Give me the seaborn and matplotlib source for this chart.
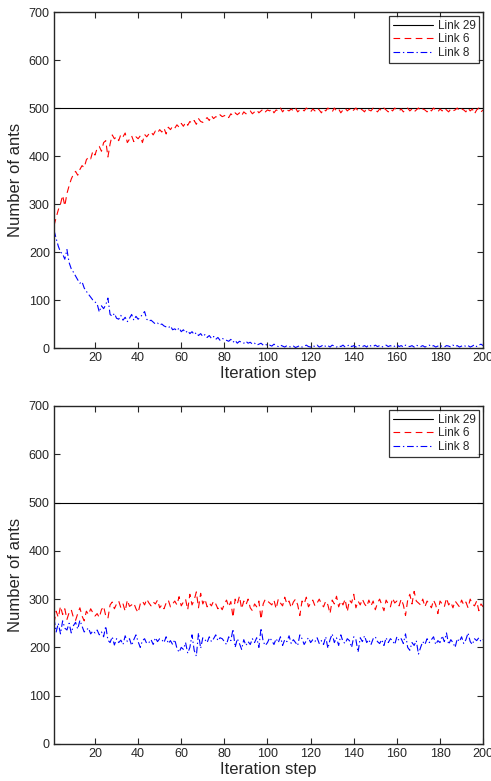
import numpy as np
import pandas as pd
import matplotlib
matplotlib.use('Agg')
import matplotlib.pyplot as plt
import seaborn as sns

sns.set_style('ticks')
plt.rcParams['font.family'] = ['Liberation Sans', 'DejaVu Sans']

steps = list(range(1, 201))

# top panel: converging case
top_link6 = [
    255, 272, 288, 300, 318, 296, 322, 338, 352, 362,
    368, 360, 372, 380, 376, 392, 398, 394, 410, 402,
    416, 420, 410, 428, 432, 398, 425, 444, 436, 440,
    432, 445, 440, 448, 428, 435, 442, 430, 440, 436,
    442, 428, 445, 440, 446, 450, 444, 452, 448, 455,
    450, 458, 446, 460, 455, 462, 458, 465, 460, 468,
    462, 470, 464, 472, 468, 474, 466, 478, 472, 470,
    476, 480, 474, 484, 478, 482, 480, 486, 482, 484,
    486, 480, 488, 484, 490, 486, 490, 484, 492, 488,
    490, 494, 488, 492, 496, 490, 494, 498, 492, 496,
    494, 498, 490, 496, 494, 500, 492, 498, 496, 494,
    498, 494, 500, 492, 496, 498, 494, 500, 496, 492,
    498, 494, 500, 496, 490, 498, 494, 500, 496, 492,
    500, 494, 498, 490, 496, 500, 494, 498, 492, 496,
    500, 494, 498, 496, 492, 500, 496, 494, 500, 496,
    492, 498, 494, 500, 496, 492, 498, 494, 500, 496,
    494, 498, 492, 496, 500, 494, 498, 492, 496, 500,
    494, 498, 496, 492, 498, 494, 500, 496, 492, 498,
    494, 500, 496, 492, 498, 494, 496, 500, 494, 498,
    496, 492, 500, 494, 498, 488, 496, 500, 492, 496,
]
top_link8 = [
    245, 228, 212, 200, 196, 185, 205, 178, 165, 158,
    150, 142, 135, 138, 125, 118, 112, 106, 100, 96,
    92, 75, 88, 82, 90, 104, 70, 66, 72, 62,
    60, 68, 58, 64, 55, 62, 70, 58, 66, 60,
    64, 70, 76, 60, 56, 58, 54, 50, 52, 48,
    50, 46, 44, 42, 46, 38, 40, 36, 42, 34,
    38, 32, 36, 30, 34, 28, 32, 26, 30, 24,
    28, 22, 26, 20, 24, 18, 22, 16, 20, 18,
    16, 14, 18, 12, 16, 10, 14, 12, 10, 14,
    10, 12, 8, 10, 6, 8, 10, 6, 8, 5,
    6, 4, 8, 5, 3, 6, 4, 2, 5, 3,
    2, 4, 1, 3, 5, 2, 4, 6, 3, 2,
    5, 3, 6, 2, 4, 7, 3, 5, 2, 6,
    4, 2, 5, 3, 6, 2, 4, 7, 3, 5,
    2, 6, 4, 3, 5, 2, 7, 4, 3, 6,
    3, 5, 2, 4, 6, 3, 5, 2, 4, 7,
    3, 5, 2, 6, 4, 3, 5, 2, 6, 4,
    3, 5, 2, 4, 6, 3, 5, 2, 4, 6,
    3, 2, 5, 4, 2, 6, 3, 5, 2, 4,
    6, 3, 5, 2, 4, 7, 3, 6, 8, 5,
]

# bottom panel: oscillating case
bot_link6 = [
    250, 275, 262, 285, 268, 280, 258, 272, 278, 262,
    256, 270, 282, 265, 255, 275, 268, 280, 272, 265,
    270, 262, 278, 285, 265, 260, 288, 294, 280, 290,
    296, 282, 290, 275, 298, 285, 288, 292, 280, 272,
    290, 296, 288, 300, 292, 286, 294, 290, 298, 282,
    288, 280, 292, 298, 284, 290, 296, 288, 305, 286,
    294, 300, 278, 310, 288, 298, 315, 282, 312, 290,
    300, 284, 292, 286, 296, 290, 280, 286, 278, 290,
    298, 284, 295, 262, 300, 290, 306, 280, 296, 288,
    300, 282, 276, 290, 284, 296, 258, 290, 300, 296,
    292, 288, 298, 280, 300, 292, 286, 304, 290, 296,
    282, 294, 300, 288, 266, 296, 290, 304, 284, 292,
    298, 286, 292, 300, 290, 284, 296, 288, 270, 298,
    290, 306, 284, 296, 288, 300, 274, 298, 292, 310,
    282, 296, 288, 300, 290, 284, 298, 286, 296, 278,
    292, 300, 288, 276, 298, 290, 284, 302, 292, 296,
    286, 300, 288, 266, 298, 310, 290, 316, 296, 292,
    288, 300, 284, 296, 290, 282, 298, 288, 270, 296,
    290, 284, 302, 288, 294, 282, 296, 290, 284, 298,
    288, 294, 282, 300, 290, 286, 296, 276, 290, 284,
]
bot_link8 = [
    260, 232, 250, 228, 255, 240, 236, 250, 230, 245,
    252, 238, 256, 244, 232, 236, 240, 228, 234, 230,
    236, 226, 232, 222, 244, 215, 210, 222, 205, 218,
    210, 215, 206, 224, 212, 218, 204, 216, 226, 212,
    200, 214, 218, 208, 210, 216, 206, 220, 212, 218,
    216, 210, 222, 208, 214, 206, 216, 198, 190, 200,
    196, 210, 188, 200, 226, 194, 182, 230, 198, 220,
    216, 210, 222, 212, 218, 226, 214, 220, 218, 212,
    206, 222, 214, 238, 200, 218, 208, 196, 216, 204,
    212, 206, 218, 210, 220, 200, 240, 212, 204, 210,
    220, 214, 206, 218, 210, 222, 204, 216, 212, 224,
    208, 216, 210, 204, 226, 218, 206, 214, 220, 210,
    216, 212, 220, 208, 214, 206, 222, 198, 216, 228,
    210, 220, 204, 226, 212, 208, 218, 214, 200, 222,
    216, 190, 220, 212, 224, 210, 216, 206, 218, 222,
    212, 208, 216, 204, 220, 210, 218, 214, 206, 222,
    214, 218, 208, 228, 200, 194, 210, 204, 214, 186,
    200, 212, 206, 218, 210, 216, 222, 206, 214, 210,
    224, 212, 230, 206, 216, 210, 200, 218, 212, 222,
    208, 216, 230, 212, 206, 218, 214, 220, 212, 216,
]
link29 = [500] * len(steps)


def panel(ax, link6, link8):
    '''Draw one panel with the three links'''
    df = pd.DataFrame({'step': steps, 'Link 29': link29,
                       'Link 6': link6, 'Link 8': link8})
    sns.lineplot(x='step', y='Link 29', data=df, ax=ax, color='black',
                 lw=0.8, label='Link 29')
    sns.lineplot(x='step', y='Link 6', data=df, ax=ax, color='red',
                 lw=0.8, dashes=(6, 4), label='Link 6')
    sns.lineplot(x='step', y='Link 8', data=df, ax=ax, color='blue',
                 lw=0.8, dashes=(6, 2.5, 1.2, 2.5), label='Link 8')
    ax.set_xlim(1, 200)
    ax.set_ylim(0, 700)
    ax.set_xticks(range(20, 201, 20))
    ax.set_yticks(range(0, 701, 100))
    ax.set_xlabel('Iteration step', fontsize=12, labelpad=1)
    ax.set_ylabel('Number of ants', fontsize=12, labelpad=4)
    ax.tick_params(direction='in', top=True, right=True, labelsize=9,
                   length=4, width=0.8, pad=3)
    for s in ax.spines.values():
        s.set_linewidth(1.0)
        s.set_visible(True)
    leg = ax.legend(loc='upper right', fontsize=8.5, frameon=True,
                    fancybox=False, borderpad=0.3, labelspacing=0.15,
                    handlelength=3.4, handletextpad=0.4,
                    borderaxespad=0.35)
    leg.get_frame().set_edgecolor('black')
    leg.get_frame().set_linewidth(0.9)


fig = plt.figure(figsize=(4.91, 7.81), dpi=100)
ax1 = fig.add_axes([0.110, 0.5544, 0.874, 0.4302])
ax2 = fig.add_axes([0.110, 0.0474, 0.874, 0.4328])
panel(ax1, top_link6, top_link8)
panel(ax2, bot_link6, bot_link8)
fig.savefig('out.png', dpi=100)
